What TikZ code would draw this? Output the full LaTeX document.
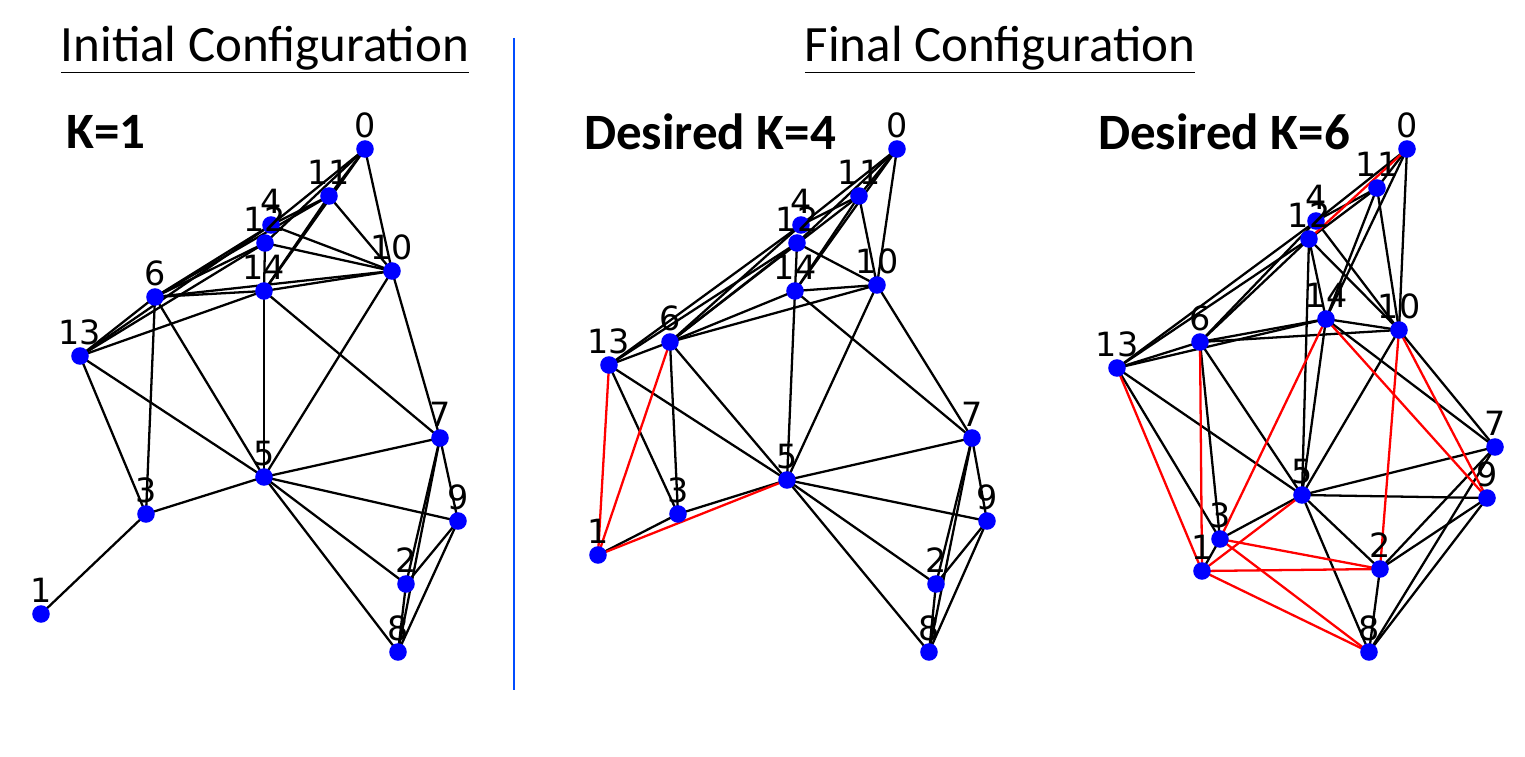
\documentclass[tikz,border=0pt]{standalone}
\usepackage{fontspec}
\setmainfont{Carlito}
\newfontfamily\labfont{DejaVu Sans}
\usetikzlibrary{positioning}
\tikzset{dot/.style={circle,fill=blue,inner sep=0pt,minimum size=10pt,
    label={[font=\labfont\fontsize{19}{19}\selectfont,inner sep=1pt]above:#1}},
  ed/.style={black,line width=1.3pt},
  hot/.style={red,line width=1.3pt},
  ttl/.style={font=\fontsize{29}{29}\selectfont},
  kk/.style={font=\bfseries\fontsize{29}{29}\selectfont}}
\begin{document}
\begin{tikzpicture}[x=0.02cm,y=-0.02cm]
\useasboundingbox (0,0) rectangle (1525,757);
\node[ttl] (T1) at (265,50) {\underline{Initial Configuration}};
\node[ttl] (T2) at (1000,50) {\underline{Final Configuration}};
\node[kk,anchor=west] (K1) at (60,132) {K=1};
\node[kk,anchor=west] (K4) at (578,132) {Desired K=4};
\node[kk,anchor=west] (K6) at (1092,132) {Desired K=6};
\coordinate (s1) at (514,38);
\coordinate (s2) at (514,690);
\draw[blue!70!cyan,line width=0.6pt] (s1) -- (s2);
% initial configuration
\foreach \n/\x/\y in {0/365/149,11/329/196,4/271/225,12/265/243,14/264/291,10/392/271,
  6/155/297,13/80/356,7/440/438,5/264/477,3/146/514,9/458/521,2/406/584,1/41/614,8/398/652}
  \coordinate (a\n) at (\x,\y);
\foreach \u/\v in {0/11,0/4,0/12,0/10,0/14,11/4,11/6,11/14,11/10,4/6,4/13,4/10,12/6,12/10,
  12/14,12/13,6/14,6/10,6/13,6/3,6/5,13/14,13/5,13/3,14/5,14/10,14/7,10/5,10/7,7/5,7/9,
  7/2,7/8,5/3,5/9,5/2,5/8,9/2,9/8,2/8,3/1}
  \draw[ed] (a\u) -- (a\v);
\foreach \n in {0,...,14} \node[dot=\n] (na\n) at (a\n) {};
% desired K=4
\foreach \n/\x/\y in {0/897/149,11/859/196,4/801/225,12/797/243,14/795/291,10/877/285,
  6/670/342,13/609/365,7/972/438,5/787/480,3/678/514,9/987/521,2/936/584,1/598/555,8/929/652}
  \coordinate (b\n) at (\x,\y);
\foreach \u/\v in {0/11,0/4,0/12,0/10,0/14,11/4,11/6,11/14,11/10,4/6,4/13,12/10,
  12/6,12/14,12/13,6/14,6/10,6/13,6/3,6/5,13/5,13/3,14/5,14/10,14/7,10/5,10/7,7/5,7/9,
  7/2,7/8,5/3,5/9,5/2,5/8,9/2,9/8,2/8,3/1}
  \draw[ed] (b\u) -- (b\v);
\foreach \u/\v in {1/13,1/6,1/5}
  \draw[hot] (b\u) -- (b\v);
\foreach \n in {0,...,14} \node[dot=\n] (nb\n) at (b\n) {};
% desired K=6
\foreach \n/\x/\y in {0/1407/149,11/1377/188,4/1316/221,12/1309/239,14/1326/319,10/1399/330,
  6/1200/342,13/1117/368,7/1495/447,5/1302/495,3/1220/539,9/1487/498,2/1380/569,1/1202/571,8/1369/652}
  \coordinate (c\n) at (\x,\y);
\foreach \u/\v in {0/11,0/4,0/10,0/14,11/4,11/12,11/14,11/10,4/13,4/6,4/10,12/13,12/6,
  12/5,12/14,12/10,6/14,6/10,13/6,13/14,13/3,13/5,6/3,6/5,14/5,14/10,14/7,10/5,10/7,
  7/5,7/2,7/8,9/5,9/2,9/8,5/3,5/2,5/8,2/8,3/1}
  \draw[ed] (c\u) -- (c\v);
\foreach \u/\v in {0/12,13/1,6/1,14/3,1/5,1/2,3/2,1/8,3/8,14/9,10/9,10/2}
  \draw[hot] (c\u) -- (c\v);
\foreach \n in {0,...,14} \node[dot=\n] (nc\n) at (c\n) {};
\end{tikzpicture}
\end{document}
